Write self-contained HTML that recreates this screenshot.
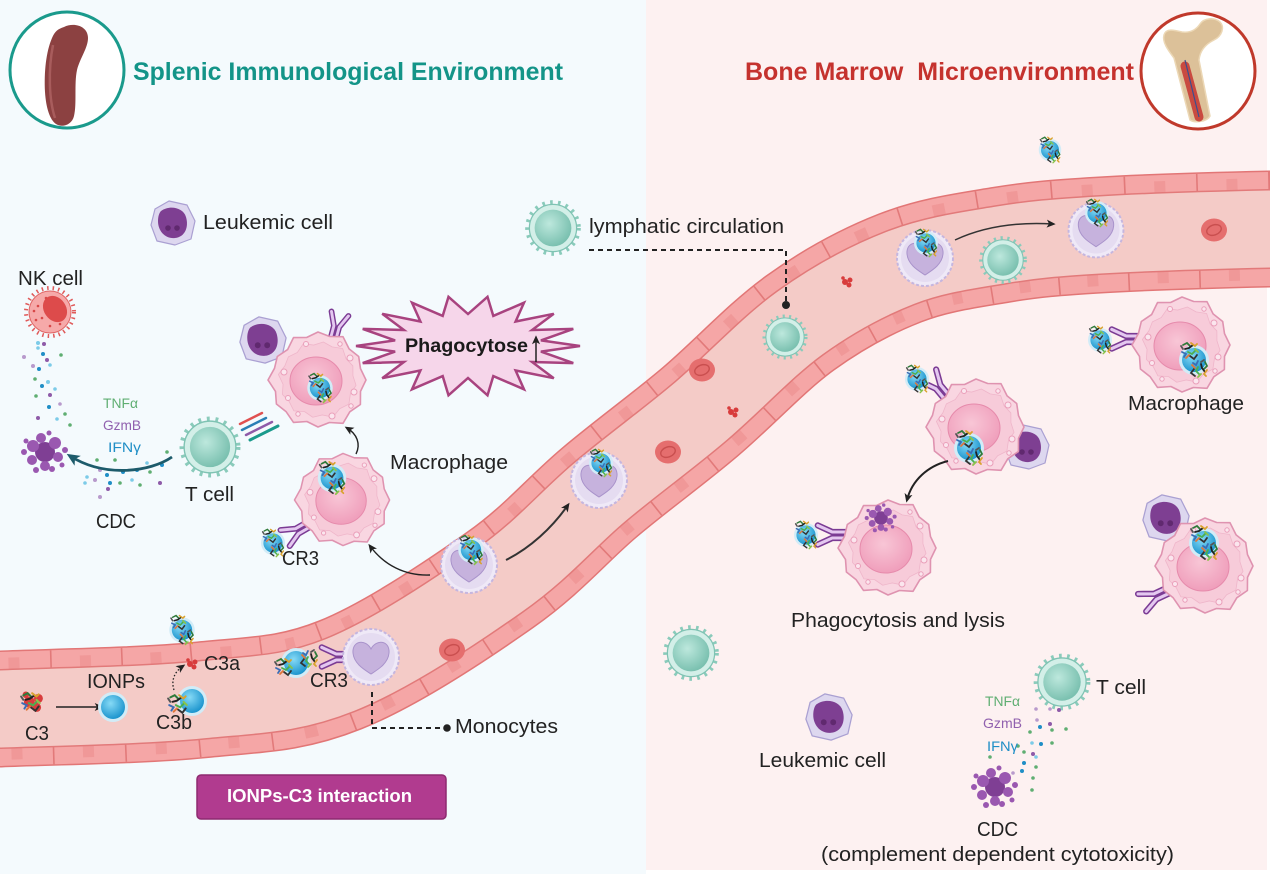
<!DOCTYPE html>
<html><head><meta charset="utf-8"><title>IONPs-C3 diagram</title>
<style>
html,body{margin:0;padding:0;background:#ffffff;width:1270px;height:874px;overflow:hidden}
svg{display:block}
text{font-family:"Liberation Sans",Arial,sans-serif}
</style></head><body>
<svg xmlns="http://www.w3.org/2000/svg" width="1270" height="874" viewBox="0 0 1270 874">
<defs>
<radialGradient id="gT" cx="40%" cy="38%" r="65%"><stop offset="0" stop-color="#bde8dd"/><stop offset="1" stop-color="#78bfae"/></radialGradient>
<radialGradient id="gN" cx="40%" cy="35%" r="70%"><stop offset="0" stop-color="#86daf6"/><stop offset="1" stop-color="#1590cb"/></radialGradient>
<radialGradient id="gM" cx="45%" cy="40%" r="65%"><stop offset="0" stop-color="#f8c6d6"/><stop offset="1" stop-color="#ef9bb9"/></radialGradient>
<marker id="ah" viewBox="0 0 10 10" refX="7" refY="5" markerWidth="9" markerHeight="9" markerUnits="userSpaceOnUse" orient="auto"><path d="M0,0.5 L10,5 L0,9.5 L2.5,5 Z" fill="#222"/></marker>
<marker id="aht" viewBox="0 0 10 10" refX="7" refY="5" markerWidth="13" markerHeight="13" markerUnits="userSpaceOnUse" orient="auto"><path d="M0,0.5 L10,5 L0,9.5 L2.5,5 Z" fill="#1d5b6b"/></marker>

<path id="vc" d="M-20,709.5 L0,709 C50,707 143.3,705.7 200,700 C256.7,694.3 290,695 340,675 C390,655 456.7,610.5 500,580 C543.3,549.5 566.7,520 600,492 C633.3,464 666.7,440.2 700,412 C733.3,383.8 766.7,347 800,323 C833.3,299 866.7,281 900,268 C933.3,255 966.7,250.5 1000,245 C1033.3,239.5 1055,237.7 1100,235 C1145,232.3 1225,230 1270,229 L1290,229"/>

<g id="tc">
<circle r="24.5" fill="none" stroke="#8acbbb" stroke-width="4" stroke-dasharray="2.5 5"/>
<circle r="22.5" fill="#d3efe8" stroke="#7fc3b3" stroke-width="1.2"/>
<circle r="17.5" fill="url(#gT)"/>
</g>

<path id="macp" d="M48,0 L42.5,11.4 L42.4,24.5 L31.8,31.8 L25,43.3 L11.4,42.5 L0,47 L-11.1,41.5 L-24.5,42.4 L-31.8,31.8 L-41.6,24 L-42.5,11.4 L-50,0 L-43.5,-11.7 L-40.7,-23.5 L-30.4,-30.4 L-24.5,-42.4 L-11.4,-42.5 L0,-48 L11.7,-43.5 L25,-43.3 L31.1,-31.1 L40.7,-23.5 L42.5,-11.4 Z"/>
<g id="mac">
<use href="#macp" fill="#f9d6e1" stroke="#df93b0" stroke-width="1.6" stroke-linejoin="round"/>
<use href="#macp" transform="scale(.8) rotate(8)" fill="#f7cbd9" stroke="#efb6ca" stroke-width="1" stroke-linejoin="round"/>
<ellipse cx="-2" cy="1" rx="26" ry="24" fill="url(#gM)" stroke="#e68aab" stroke-width="1"/>
<g fill="#fbe6ee" stroke="#ea9fba" stroke-width="1">
<circle cx="-34" cy="-8" r="3"/><circle cx="-30" cy="18" r="2.5"/><circle cx="32" cy="-22" r="3"/><circle cx="36" cy="12" r="3"/>
<circle cx="-12" cy="-36" r="2.5"/><circle cx="14" cy="36" r="3"/><circle cx="-20" cy="34" r="2.2"/><circle cx="22" cy="-36" r="2.2"/><circle cx="33" cy="26" r="2.2"/>
</g>
</g>

<g id="mo">
<circle r="28" fill="#efe9f7" stroke="#c5b6df" stroke-width="2" stroke-dasharray="3 2"/>
<circle r="24" fill="#e5dcf1"/>
<path d="M0,-8 C-5,-18 -19,-17 -18,-4 C-17,7 -6,13 0,17 C6,13 17,7 18,-4 C19,-17 5,-18 0,-8Z" fill="#c6b2dd" stroke="#a993cb" stroke-width="1"/>
</g>

<g id="lk">
<path d="M-18,-14 L-4,-22 L14,-18 L22,-2 L18,16 L2,22 L-16,18 L-22,2 Z" fill="#ddd7ef" stroke="#aaa0d2" stroke-width="1.2" stroke-linejoin="round"/>
<path d="M-12,-12 C-4,-18 10,-16 13,-6 C16,4 12,14 2,15 C-8,16 -15,8 -15,-2 C-15,-6 -14,-10 -12,-12Z" fill="#7e3f92"/>
<circle cx="-5" cy="5" r="2.8" fill="#60296f"/><circle cx="4" cy="5" r="2.8" fill="#60296f"/>
</g>

<g id="rbc"><ellipse rx="13" ry="11.5" fill="#e56e6e"/><ellipse rx="7.5" ry="5" fill="none" stroke="#c94f4f" stroke-width="1.4" transform="rotate(-20)"/></g>

<g id="np"><circle r="15" fill="#d2ecf7"/><circle r="12" fill="url(#gN)"/></g>

<g id="pr" stroke-width="1.8" stroke-linecap="round" fill="none">
<path d="M-7,-6 L-3,-8 L0,-5" stroke="#2f7a3a"/>
<path d="M-5,-2 L-1,-3 L3,-6" stroke="#222"/>
<path d="M1,-8 L5,-5 L7,-7" stroke="#d9a22e"/>
<path d="M-8,1 L-4,3 L-6,6" stroke="#3b6db5"/>
<path d="M-2,1 L2,3 L5,0" stroke="#4caf50"/>
<path d="M0,5 L4,8 L7,4" stroke="#333"/>
<path d="M-4,7 L-1,4" stroke="#e0763a"/>
<path d="M5,-2 L8,1" stroke="#8bc34a"/>
<path d="M-7,-2 L-9,-5" stroke="#555"/>
</g>

<g id="npc">
<use href="#np"/>
<use href="#pr" transform="translate(-4,-9)"/>
<use href="#pr" transform="translate(5,9) rotate(90)"/>
</g>

<g id="cr" fill="none" stroke-linecap="round" stroke-linejoin="round">
<path d="M-2.5,3 L-2.5,-9 L-8,-21 M2.5,3 L2.5,-9 L8,-21" stroke="#7b3b94" stroke-width="5.2"/>
<path d="M-2.5,3 L-2.5,-9 L-8,-21 M2.5,3 L2.5,-9 L8,-21" stroke="#e4c8f0" stroke-width="2.6"/>
</g>

<g id="ly">
<circle cx="0" cy="0" r="10" fill="#7f3f94"/>
<g fill="#9a58b0">
<circle cx="-12" cy="-6" r="6"/><circle cx="10" cy="-9" r="6"/><circle cx="13" cy="5" r="5"/><circle cx="-13" cy="8" r="5"/>
<circle cx="0" cy="14" r="5"/><circle cx="-4" cy="-14" r="5"/><circle cx="20" cy="-2" r="3"/><circle cx="-21" cy="0" r="3"/>
<circle cx="7" cy="17" r="3"/><circle cx="-9" cy="18" r="3"/><circle cx="17" cy="13" r="2.5"/><circle cx="-19" cy="-11" r="2.5"/><circle cx="4" cy="-19" r="2.5"/>
</g>
</g>

<g id="frag" fill="#d83c3c"><circle cx="-2" cy="0" r="3"/><circle cx="3" cy="-2" r="2.5"/><circle cx="2" cy="3" r="2.5"/><circle cx="-4" cy="-4" r="1.8"/></g>

<g id="nk">
<circle r="24" fill="none" stroke="#e05a5a" stroke-width="4" stroke-dasharray="1.5 4"/>
<circle r="21" fill="#f6a9a9" stroke="#e06666" stroke-width="1"/>
<ellipse cx="5" cy="-3" rx="11" ry="14" fill="#dd4b4b" transform="rotate(-35 5 -3)"/>
<g fill="#d84848"><circle cx="-12" cy="-6" r="1.3"/><circle cx="-8" cy="6" r="1.3"/><circle cx="-14" cy="8" r="1.3"/><circle cx="0" cy="14" r="1.3"/><circle cx="-4" cy="-14" r="1.3"/><circle cx="10" cy="12" r="1.3"/><circle cx="-16" cy="-1" r="1.3"/></g>
</g>
</defs>

<!-- backgrounds -->
<rect x="0" y="0" width="1270" height="874" fill="#ffffff"/>
<rect x="0" y="0" width="646" height="874" fill="#f4fafd"/>
<rect x="646" y="0" width="621" height="870" fill="#fdf1f1"/>

<!-- header left -->
<ellipse cx="67" cy="70" rx="57" ry="58" fill="#ffffff" stroke="#1a9a8c" stroke-width="3"/>
<path d="M64,27 C74,22 88,26 88,38 C88,48 80,58 77,70 C74,84 77,104 74,116 C72,125 62,128 56,124 C50,120 46,108 45,92 C44,72 46,52 52,38 C55,31 58,29 64,27 Z" fill="#8c4141"/>
<path d="M53,45 C48,70 49,100 55,118" fill="none" stroke="#a85c5c" stroke-width="2.5"/>
<text x="133" y="80" font-size="25" font-weight="bold" fill="#139488" textLength="430" lengthAdjust="spacingAndGlyphs">Splenic Immunological Environment</text>

<!-- header right -->
<text x="745" y="80" font-size="25" font-weight="bold" fill="#c5322e" textLength="389" lengthAdjust="spacingAndGlyphs" xml:space="preserve">Bone Marrow  Microenvironment</text>
<ellipse cx="1198" cy="71" rx="57" ry="58" fill="#ffffff" stroke="#c0392b" stroke-width="3"/>
<path d="M1190,120 L1174,58 C1168,50 1162,42 1164,35 C1166,28 1174,30 1182,32 C1190,33 1196,30 1200,24 C1204,18 1214,17 1220,22 C1225,27 1222,36 1214,40 C1206,44 1200,50 1199,60 L1210,116 C1207,122 1194,123 1190,120 Z" fill="#dcc199" stroke="#ecd8b6" stroke-width="1.5"/>
<path d="M1185,66 L1199,117" stroke="#c94a40" stroke-width="9" stroke-linecap="round"/>
<path d="M1185,60 L1199,117" stroke="#3b4f8f" stroke-width="1.2"/>

<!-- vessel -->
<g fill="none">
<use href="#vc" stroke="#e27676" stroke-width="117"/>
<use href="#vc" stroke="#f5a6a6" stroke-width="114"/>
<use href="#vc" stroke="#e27a7a" stroke-width="114" stroke-dasharray="1.6 70"/>
<use href="#vc" stroke="#f09898" stroke-width="102" stroke-dasharray="11 60.6" stroke-dashoffset="-30"/>
<use href="#vc" stroke="#e27a7a" stroke-width="80"/>
<use href="#vc" stroke="#f4cbc7" stroke-width="77"/>
</g>

<!-- starburst -->
<polygon points="580,346 540.9,351.6 573.3,363.1 532.1,362 553.8,378.2 515.6,370.5 524,389.3 493.3,376.1 487.5,395.3 468,378 448.5,395.3 442.7,376.1 412,389.3 420.4,370.5 382.2,378.2 403.9,362 362.7,363.1 395.1,351.6 356,346 395.1,340.4 362.7,328.9 403.9,330 382.2,313.8 420.4,321.5 412,302.7 442.7,315.9 448.5,296.8 468,314 487.5,296.8 493.3,315.9 524,302.7 515.6,321.5 553.8,313.8 532.1,330 573.3,328.9 540.9,340.4" fill="#f6d6ea" stroke="#a8437f" stroke-width="2.5" stroke-linejoin="miter"/>
<text x="405" y="352" font-size="19" font-weight="bold" fill="#1a1a1a" textLength="123" lengthAdjust="spacingAndGlyphs">Phagocytose</text>
<path d="M536,362 L536,338" stroke="#222" stroke-width="1.5" marker-end="url(#ah)"/>

<!-- left panel cells -->
<use href="#lk" transform="translate(173,223)"/>
<use href="#nk" transform="translate(50,312)"/>
<g>
<circle cx="38" cy="343" r="2" fill="#7ccbe8"/><circle cx="44" cy="344" r="2" fill="#8e5aa8"/><circle cx="38" cy="348" r="1.8" fill="#7ccbe8"/><circle cx="24" cy="357" r="2" fill="#b89acc"/><circle cx="43" cy="354" r="2" fill="#1f8ec6"/><circle cx="61" cy="355" r="1.8" fill="#5fae72"/><circle cx="33" cy="366" r="2" fill="#b89acc"/><circle cx="39" cy="369" r="2" fill="#1f8ec6"/><circle cx="50" cy="365" r="1.8" fill="#7ccbe8"/><circle cx="47" cy="360" r="2" fill="#8e5aa8"/><circle cx="35" cy="379" r="1.8" fill="#5fae72"/><circle cx="48" cy="382" r="2" fill="#7ccbe8"/><circle cx="42" cy="386" r="2" fill="#1f8ec6"/><circle cx="55" cy="389" r="1.8" fill="#7ccbe8"/><circle cx="36" cy="396" r="1.8" fill="#5fae72"/><circle cx="50" cy="395" r="2" fill="#8e5aa8"/><circle cx="60" cy="404" r="1.8" fill="#b89acc"/><circle cx="49" cy="407" r="2" fill="#1f8ec6"/><circle cx="38" cy="418" r="2" fill="#8e5aa8"/><circle cx="57" cy="419" r="1.8" fill="#7ccbe8"/><circle cx="65" cy="414" r="1.8" fill="#5fae72"/><circle cx="70" cy="425" r="1.8" fill="#5fae72"/>
</g>
<use href="#ly" transform="translate(45,452)"/>
<g>
<circle cx="97" cy="460" r="1.8" fill="#5fae72"/><circle cx="100" cy="470" r="2" fill="#b89acc"/><circle cx="87" cy="477" r="1.8" fill="#7ccbe8"/><circle cx="95" cy="480" r="2" fill="#b89acc"/><circle cx="107" cy="475" r="2" fill="#1f8ec6"/><circle cx="110" cy="483" r="2" fill="#1f8ec6"/><circle cx="100" cy="497" r="2" fill="#b89acc"/><circle cx="120" cy="483" r="1.8" fill="#5fae72"/><circle cx="123" cy="472" r="2" fill="#1f8ec6"/><circle cx="132" cy="480" r="1.8" fill="#7ccbe8"/><circle cx="137" cy="470" r="2" fill="#1f8ec6"/><circle cx="140" cy="485" r="1.8" fill="#5fae72"/><circle cx="150" cy="472" r="1.8" fill="#5fae72"/><circle cx="160" cy="483" r="2" fill="#8e5aa8"/><circle cx="162" cy="465" r="2" fill="#1f8ec6"/><circle cx="167" cy="452" r="1.8" fill="#5fae72"/><circle cx="147" cy="463" r="1.8" fill="#7ccbe8"/><circle cx="115" cy="460" r="1.8" fill="#5fae72"/><circle cx="108" cy="489" r="2" fill="#8e5aa8"/><circle cx="85" cy="483" r="1.8" fill="#7ccbe8"/>
</g>
<path d="M172,457 C150,472 105,478 70,456" fill="none" stroke="#1d5b6b" stroke-width="2.8" marker-end="url(#aht)"/>
<text x="103" y="408" font-size="14" fill="#5fae72" textLength="35" lengthAdjust="spacingAndGlyphs">TNFα</text>
<text x="103" y="430" font-size="14" fill="#9060ae" textLength="38" lengthAdjust="spacingAndGlyphs">GzmB</text>
<text x="108" y="452" font-size="14" fill="#1f8ec6" textLength="33" lengthAdjust="spacingAndGlyphs">IFNγ</text>
<use href="#tc" transform="translate(210,447) scale(1.15)"/>
<g stroke-linecap="round">
<path d="M240,424 L262,413" stroke="#e05050" stroke-width="2.5"/>
<path d="M242,430 L266,418" stroke="#2a7fb5" stroke-width="2.5"/>
<path d="M246,435 L272,422" stroke="#8e5aa8" stroke-width="2.5"/>
<path d="M250,440 L278,426" stroke="#1a9a8c" stroke-width="3"/>
</g>
<use href="#lk" transform="translate(263,340) scale(1.05)"/>
<use href="#cr" transform="translate(334,336) rotate(15) scale(1.1)"/>
<use href="#mac" transform="translate(318,380)"/>
<use href="#npc" transform="translate(320,388) scale(.85)"/>
<path d="M356,454 C361,444 357,434 347,428" fill="none" stroke="#222" stroke-width="1.4" marker-end="url(#ah)"/>
<use href="#cr" transform="translate(306,526) rotate(-120) scale(1.15)"/>
<use href="#mac" transform="translate(343,500) scale(.97)"/>
<use href="#npc" transform="translate(332,478) scale(.95)"/>
<use href="#npc" transform="translate(273,543) scale(.8)"/>

<!-- vessel contents -->
<use href="#frag" transform="translate(33,702) scale(1.8)"/>
<use href="#pr" transform="translate(31,702) scale(1.1)"/>
<path d="M56,707 L101,707" stroke="#222" stroke-width="1.4" marker-end="url(#ah)"/>
<use href="#np" transform="translate(113,707)"/>
<use href="#np" transform="translate(192,701)"/>
<use href="#pr" transform="translate(178,704) scale(1.1)"/>
<path d="M174,690 C171,681 174,672 183,666" fill="none" stroke="#222" stroke-width="1.3" stroke-dasharray="1.5 2" marker-end="url(#ah)"/>
<use href="#frag" transform="translate(192,664)"/>
<use href="#npc" transform="translate(182,630) scale(.85)"/>
<use href="#rbc" transform="translate(452,650)"/>
<use href="#rbc" transform="translate(668,452)"/>
<use href="#rbc" transform="translate(702,370)"/>
<use href="#rbc" transform="translate(1214,230)"/>
<use href="#frag" transform="translate(733,412)"/>
<use href="#frag" transform="translate(847,282)"/>
<use href="#cr" transform="translate(347,657) rotate(-90) scale(1.2)"/>
<use href="#mo" transform="translate(371,657)"/>
<use href="#np" transform="translate(296,663)"/>
<use href="#pr" transform="translate(284,667)"/>
<use href="#pr" transform="translate(309,659) rotate(90)"/>
<use href="#mo" transform="translate(469,565)"/>
<use href="#npc" transform="translate(471,550) scale(.85)"/>
<path d="M430,575 C405,576 384,565 370,546" fill="none" stroke="#222" stroke-width="1.4" marker-end="url(#ah)"/>
<path d="M506,560 C530,548 552,528 568,505" fill="none" stroke="#333" stroke-width="2" marker-end="url(#ah)"/>
<use href="#mo" transform="translate(599,480)"/>
<use href="#npc" transform="translate(601,463) scale(.8)"/>
<use href="#tc" transform="translate(785,337) scale(.85)"/>
<use href="#mo" transform="translate(925,258)"/>
<use href="#npc" transform="translate(926,243) scale(.8)"/>
<path d="M955,240 C985,226 1020,222 1053,224" fill="none" stroke="#333" stroke-width="1.5" marker-end="url(#ah)"/>
<use href="#tc" transform="translate(1003,260) scale(.9)"/>
<use href="#mo" transform="translate(1096,230) scale(.98)"/>
<use href="#npc" transform="translate(1097,213) scale(.8)"/>
<use href="#npc" transform="translate(1050,150) scale(.75)"/>

<!-- dashed connectors -->
<use href="#tc" transform="translate(553,228) scale(1.05)"/>
<path d="M589,250 L786,250 L786,303" fill="none" stroke="#222" stroke-width="2" stroke-dasharray="5 4"/>
<circle cx="786" cy="305" r="4" fill="#222"/>
<path d="M372,692 L372,728 L445,728" fill="none" stroke="#222" stroke-width="2" stroke-dasharray="5 4"/>
<circle cx="447" cy="728" r="3.8" fill="#222"/>

<!-- right panel cells -->
<use href="#cr" transform="translate(1137,339) rotate(-90) scale(1.2)"/>
<use href="#mac" transform="translate(1182,345)"/>
<use href="#npc" transform="translate(1194,360)"/>
<use href="#npc" transform="translate(1100,340) scale(.8)"/>
<use href="#lk" transform="translate(1027,447)"/>
<use href="#cr" transform="translate(945,395) rotate(-40) scale(1.2)"/>
<use href="#mac" transform="translate(976,427)"/>
<use href="#npc" transform="translate(969,448)"/>
<use href="#npc" transform="translate(917,379) scale(.8)"/>
<path d="M948,461 C928,466 912,480 907,500" fill="none" stroke="#222" stroke-width="2" marker-end="url(#ah)"/>
<use href="#cr" transform="translate(843,535) rotate(-90) scale(1.2)"/>
<use href="#mac" transform="translate(888,548)"/>
<use href="#ly" transform="translate(881,518) scale(.68)"/>
<use href="#npc" transform="translate(806,535) scale(.8)"/>
<use href="#lk" transform="translate(1166,518) scale(1.05)"/>
<use href="#cr" transform="translate(1165,592) rotate(-115) scale(1.2)"/>
<use href="#mac" transform="translate(1205,566)"/>
<use href="#npc" transform="translate(1204,543)"/>
<use href="#tc" transform="translate(691,653) scale(1.05)"/>
<use href="#lk" transform="translate(829,717) scale(1.05)"/>
<use href="#tc" transform="translate(1062,682) scale(1.07)"/>
<g>
<circle cx="1036" cy="709" r="1.8" fill="#b89acc"/><circle cx="1050" cy="709" r="1.8" fill="#b89acc"/><circle cx="1059" cy="710" r="2" fill="#8e5aa8"/><circle cx="1037" cy="720" r="1.8" fill="#b89acc"/><circle cx="1040" cy="727" r="2" fill="#1f8ec6"/><circle cx="1050" cy="724" r="2" fill="#8e5aa8"/><circle cx="1052" cy="730" r="1.8" fill="#5fae72"/><circle cx="1066" cy="729" r="1.8" fill="#5fae72"/><circle cx="1030" cy="732" r="1.8" fill="#5fae72"/><circle cx="1032" cy="743" r="1.8" fill="#7ccbe8"/><circle cx="1041" cy="744" r="2" fill="#1f8ec6"/><circle cx="1052" cy="743" r="1.8" fill="#5fae72"/><circle cx="1018" cy="746" r="1.8" fill="#5fae72"/><circle cx="1024" cy="752" r="1.8" fill="#5fae72"/><circle cx="1033" cy="754" r="2" fill="#8e5aa8"/><circle cx="990" cy="757" r="1.8" fill="#5fae72"/><circle cx="1036" cy="757" r="1.8" fill="#7ccbe8"/><circle cx="1024" cy="763" r="2" fill="#1f8ec6"/><circle cx="1036" cy="767" r="1.8" fill="#5fae72"/><circle cx="1022" cy="771" r="2" fill="#1f8ec6"/><circle cx="1033" cy="778" r="1.8" fill="#5fae72"/><circle cx="1032" cy="790" r="1.8" fill="#5fae72"/><circle cx="1013" cy="773" r="1.8" fill="#b89acc"/>
</g>
<use href="#ly" transform="translate(995,787)"/>

<!-- button -->
<rect x="197" y="775" width="249" height="44" rx="4" fill="#b13b8f" stroke="#8e2a70" stroke-width="1.5"/>
<text x="227" y="802" font-size="18" font-weight="bold" fill="#ffffff" textLength="185" lengthAdjust="spacingAndGlyphs">IONPs-C3 interaction</text>

<!-- labels -->
<g fill="#222222" font-size="20">
<text x="203" y="229" textLength="130" lengthAdjust="spacingAndGlyphs">Leukemic cell</text>
<text x="18" y="285" textLength="65" lengthAdjust="spacingAndGlyphs">NK cell</text>
<text x="185" y="501" textLength="49" lengthAdjust="spacingAndGlyphs">T cell</text>
<text x="96" y="528" textLength="40" lengthAdjust="spacingAndGlyphs">CDC</text>
<text x="390" y="469" textLength="118" lengthAdjust="spacingAndGlyphs">Macrophage</text>
<text x="282" y="565" textLength="37" lengthAdjust="spacingAndGlyphs">CR3</text>
<text x="589" y="233" textLength="195" lengthAdjust="spacingAndGlyphs">lymphatic circulation</text>
<text x="25" y="740" textLength="24" lengthAdjust="spacingAndGlyphs">C3</text>
<text x="87" y="688" textLength="58" lengthAdjust="spacingAndGlyphs">IONPs</text>
<text x="156" y="729" textLength="36" lengthAdjust="spacingAndGlyphs">C3b</text>
<text x="204" y="670" textLength="36" lengthAdjust="spacingAndGlyphs">C3a</text>
<text x="310" y="687" textLength="38" lengthAdjust="spacingAndGlyphs">CR3</text>
<text x="455" y="733" textLength="103" lengthAdjust="spacingAndGlyphs">Monocytes</text>
<text x="1128" y="410" textLength="116" lengthAdjust="spacingAndGlyphs">Macrophage</text>
<text x="791" y="627" textLength="214" lengthAdjust="spacingAndGlyphs">Phagocytosis and lysis</text>
<text x="759" y="767" textLength="127" lengthAdjust="spacingAndGlyphs">Leukemic cell</text>
<text x="1096" y="694" textLength="50" lengthAdjust="spacingAndGlyphs">T cell</text>
<text x="977" y="836" textLength="41" lengthAdjust="spacingAndGlyphs">CDC</text>
<text x="821" y="861" textLength="353" lengthAdjust="spacingAndGlyphs">(complement dependent cytotoxicity)</text>
</g>
<text x="985" y="706" font-size="14" fill="#5fae72" textLength="35" lengthAdjust="spacingAndGlyphs">TNFα</text>
<text x="983" y="728" font-size="14" fill="#9060ae" textLength="39" lengthAdjust="spacingAndGlyphs">GzmB</text>
<text x="987" y="751" font-size="14" fill="#1f8ec6" textLength="31" lengthAdjust="spacingAndGlyphs">IFNγ</text>
</svg>
</body></html>
